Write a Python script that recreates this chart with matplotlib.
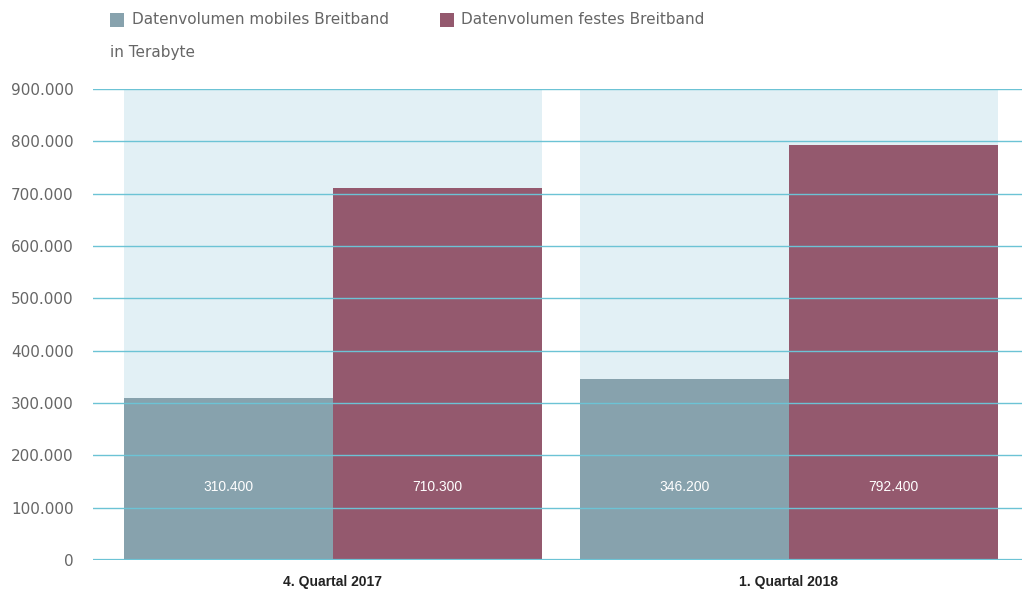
import matplotlib
matplotlib.use('Agg')
import matplotlib.pyplot as plt
from matplotlib.patches import Rectangle
import numpy as np

quarters = ['4. Quartal 2017', '1. Quartal 2018']
mobile = [310400, 346200]
fixed = [710300, 792400]
series_names = ['Datenvolumen mobiles Breitband', 'Datenvolumen festes Breitband']
y_ticks = [0, 100000, 200000, 300000, 400000, 500000, 600000, 700000, 800000, 900000]

col_mobile = '#87a2ad'
col_fixed = '#94596e'
col_bg = '#e2f0f5'
col_grid = '#6cc3d5'
col_text = '#666666'

def fmt(v):
    return f"{v:,}".replace(',', '.')

fig = plt.figure(figsize=(10.22, 5.95), dpi=100)
ax = fig.add_axes([0.091, 0.0588, 0.909, 0.7916])

x = np.arange(len(quarters))
group_w = 0.917
bar_w = group_w / 2

for xi in x:
    ax.add_patch(Rectangle((xi - group_w / 2, 0), group_w, y_ticks[-1],
                           facecolor=col_bg, edgecolor='none', zorder=0))

ax.bar(x - bar_w / 2, mobile, bar_w, color=col_mobile, zorder=1)
ax.bar(x + bar_w / 2, fixed, bar_w, color=col_fixed, zorder=1)

for xi, m, f in zip(x, mobile, fixed):
    ax.text(xi - bar_w / 2, 140000, fmt(m), ha='center', va='center',
            color='white', fontsize=10, family='Liberation Sans', zorder=3)
    ax.text(xi + bar_w / 2, 140000, fmt(f), ha='center', va='center',
            color='white', fontsize=10, family='Liberation Sans', zorder=3)

for t in y_ticks:
    ax.axhline(t, color=col_grid, lw=1.0 if t else 1.6, zorder=2)

ax.set_xlim(-0.526, 1.511)
ax.set_ylim(0, y_ticks[-1])
ax.set_yticks(y_ticks)
ax.set_yticklabels([fmt(t) for t in y_ticks], color=col_text, fontsize=11)
ax.set_xticks(x)
ax.set_xticklabels(quarters, fontsize=10, family='Liberation Sans', fontweight='bold', color='#222222')
ax.tick_params(axis='both', length=0)
ax.tick_params(axis='y', pad=14)
ax.tick_params(axis='x', pad=11)
for s in ax.spines.values():
    s.set_visible(False)

# legend and unit note
fig.patches.append(Rectangle((110 / 1022, 1 - 27 / 595), 14 / 1022, 14 / 595,
                             transform=fig.transFigure, facecolor=col_mobile, edgecolor='none'))
fig.text(132 / 1022, 1 - 19 / 595, series_names[0], color=col_text, fontsize=11, va='center')
fig.patches.append(Rectangle((440 / 1022, 1 - 27 / 595), 14 / 1022, 14 / 595,
                             transform=fig.transFigure, facecolor=col_fixed, edgecolor='none'))
fig.text(461 / 1022, 1 - 19 / 595, series_names[1], color=col_text, fontsize=11, va='center')
fig.text(110 / 1022, 1 - 52 / 595, 'in Terabyte', color=col_text, fontsize=11, va='center')

fig.savefig('out.png', dpi=100)
